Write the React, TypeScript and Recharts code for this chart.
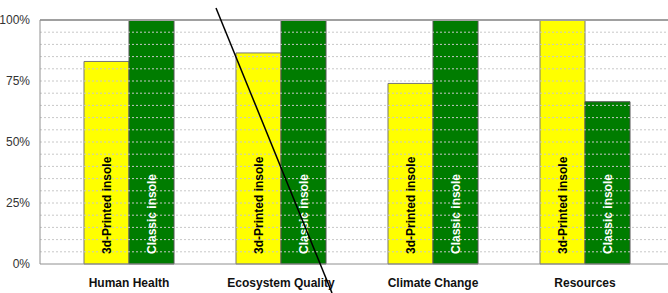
import React from 'react';
import { BarChart, Bar, XAxis, YAxis, ReferenceLine, LabelList } from 'recharts';

const categories = ['Human Health', 'Ecosystem Quality', 'Climate Change', 'Resources'];
const printedInsole = [0.83, 0.865, 0.74, 1.0];
const classicInsole = [1.0, 1.0, 1.0, 0.665];
const yTicks = [0, 0.25, 0.5, 0.75, 1];
const gridValues = [0.05, 0.1, 0.15, 0.2, 0.25, 0.3, 0.35, 0.4, 0.45, 0.5, 0.55, 0.6, 0.65, 0.7, 0.75, 0.8, 0.85, 0.9, 0.95];
const seriesNames = ['3d-Printed insole', 'Classic insole'];

const data = categories.map((name, i) => ({
  name,
  printed: printedInsole[i],
  classic: classicInsole[i],
}));

const FONT = '"Liberation Sans", Arial, sans-serif';

const barLabel = (text: string, color: string) => (props: any) => {
  const { x, y, width, height } = props;
  const cx = Number(x) + Number(width) / 2 + 4;
  const by = Number(y) + Number(height) - 10;
  return (
    <text
      x={cx}
      y={by}
      transform={`rotate(-90, ${cx}, ${by})`}
      textAnchor="start"
      fill={color}
      fontSize={12}
      fontWeight="bold"
      fontFamily={FONT}
    >
      {text}
    </text>
  );
};

export default function App() {
  return (
    <div style={{ position: 'absolute', left: 0, top: 0, width: 668, height: 293, background: '#fff' }}>
      <BarChart
        width={668}
        height={293}
        data={data}
        margin={{ top: 20, right: 0, left: 0, bottom: 0 }}
        barGap={0}
        barCategoryGap={31}
      >
        {gridValues.map((v) => (
          <ReferenceLine key={v} y={v} stroke="#c8c8c8" strokeDasharray="2 2" />
        ))}
        <ReferenceLine y={1} stroke="#a0a0a0" strokeWidth={2} />
        <XAxis
          dataKey="name"
          height={29}
          padding={{ left: 13, right: 7 }}
          axisLine={{ stroke: '#909090' }}
          tickLine={false}
          tick={{ fill: '#111', fontSize: 12, fontWeight: 'bold', fontFamily: FONT }}
          tickMargin={8}
        />
        <YAxis
          width={40}
          domain={[0, 1]}
          ticks={yTicks}
          tickFormatter={(v) => `${Math.round(v * 100)}%`}
          axisLine={{ stroke: '#909090' }}
          tickLine={false}
          tick={{ fill: '#333', fontSize: 12, fontFamily: FONT }}
          tickMargin={4}
        />
        <Bar dataKey="printed" fill="#ffff00" stroke="#777" strokeWidth={1} isAnimationActive={false}>
          <LabelList dataKey="printed" content={barLabel(seriesNames[0], '#000')} />
        </Bar>
        <Bar dataKey="classic" fill="#007c00" stroke="#555" strokeWidth={1} isAnimationActive={false}>
          <LabelList dataKey="classic" content={barLabel(seriesNames[1], '#fff')} />
        </Bar>
      </BarChart>
      <svg width={668} height={293} style={{ position: 'absolute', left: 0, top: 0, pointerEvents: 'none' }}>
        <line x1={216} y1={8} x2={332} y2={293} stroke="#000" strokeWidth={1.5} />
      </svg>
    </div>
  );
}
